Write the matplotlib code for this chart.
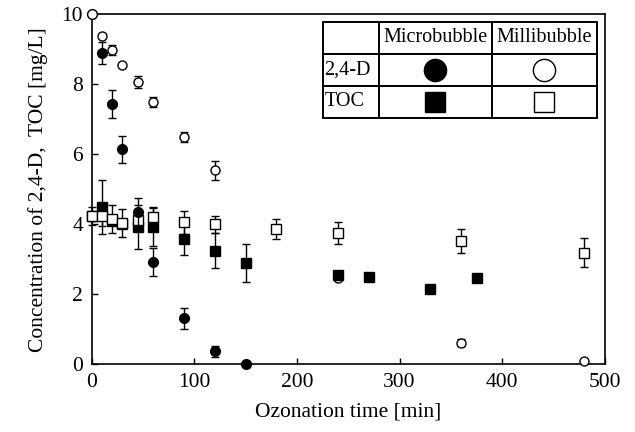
import matplotlib
matplotlib.use("Agg")
import matplotlib.pyplot as plt

plt.rcParams['font.family'] = ['Liberation Serif', 'DejaVu Serif']
plt.rcParams['mathtext.fontset'] = 'stix'

# ozonation time [min]
t_d_micro = [0, 10, 20, 30, 45, 60, 90, 120, 150]
d_micro = [10.0, 8.89, 7.43, 6.14, 4.35, 2.93, 1.31, 0.37, 0.0]
d_micro_err = [0, 0.31, 0.40, 0.38, 0.40, 0.40, 0.30, 0.15, 0]

t_d_milli = [0, 10, 20, 30, 45, 60, 90, 120, 240, 360, 480]
d_milli = [10.0, 9.39, 8.98, 8.55, 8.07, 7.50, 6.49, 5.55, 2.46, 0.62, 0.10]
d_milli_err = [0, 0, 0.15, 0, 0.17, 0.15, 0.15, 0.27, 0, 0.10, 0]

t_toc_micro = [0, 10, 20, 30, 45, 60, 90, 120, 150, 240, 270, 330, 375]
toc_micro = [4.25, 4.50, 4.10, 4.00, 3.93, 3.93, 3.57, 3.24, 2.89, 2.55, 2.50, 2.14, 2.46]
toc_micro_err = [0, 0.78, 0, 0, 0.63, 0.55, 0.45, 0.50, 0.55, 0, 0, 0, 0]

t_toc_milli = [0, 10, 20, 30, 45, 60, 90, 120, 180, 240, 360, 480]
toc_milli = [4.24, 4.24, 4.14, 4.05, 4.12, 4.20, 4.06, 4.00, 3.86, 3.76, 3.53, 3.19]
toc_milli_err = [0.25, 0.30, 0.40, 0.40, 0.30, 0.30, 0.33, 0.25, 0.28, 0.31, 0.35, 0.41]

col_labels = ['', 'Microbubble', 'Millibubble']
row_labels = ['2,4-D', 'TOC']

fig = plt.figure(figsize=(6.35, 4.32), dpi=100)
ax = fig.add_axes([0.1441, 0.1567, 0.8087, 0.8102])

eb = dict(ecolor='black', elinewidth=1.0, capsize=3, capthick=1.0,
          linestyle='none', clip_on=False)
ax.errorbar(t_d_milli, d_milli, yerr=d_milli_err, fmt='o', ms=6.5,
            mfc='white', mec='black', mew=1.0, zorder=3, **eb)
ax.errorbar(t_toc_micro, toc_micro, yerr=toc_micro_err, fmt='s', ms=6.5,
            mfc='black', mec='black', zorder=4, **eb)
ax.errorbar(t_toc_milli, toc_milli, yerr=toc_milli_err, fmt='s', ms=6.5,
            mfc='white', mec='black', mew=1.0, zorder=5, **eb)
ax.errorbar(t_d_micro[1:], d_micro[1:], yerr=d_micro_err[1:], fmt='o', ms=7,
            mfc='black', mec='black', zorder=6, **eb)
# t = 0 point sits under the open circle
ax.plot(t_d_milli[:1], d_milli[:1], 'o', ms=7, mfc='white', mec='black',
        clip_on=False, zorder=7)

ax.set_xlim(0, 500)
ax.set_ylim(0, 10)
ax.set_xticks([0, 100, 200, 300, 400, 500])
ax.set_yticks([0, 2, 4, 6, 8, 10])
ax.tick_params(direction='in', length=4, width=1, labelsize=15.5, pad=6)
for s in ax.spines.values():
    s.set_linewidth(1.2)

ax.set_xlabel('Ozonation time [min]', fontsize=15.5, labelpad=8)
ax.set_ylabel('Concentration of 2,4-D,  TOC [mg/L]', fontsize=15.5, labelpad=10)

# legend table
x0, x1 = 0.451, 0.984
y0, y1 = 0.704, 0.979
widths = [56, 113, 105]
tot = sum(widths)
cw = [w / tot * (x1 - x0) for w in widths]
cells = [col_labels] + [[r, '', ''] for r in row_labels]
tab = ax.table(cellText=cells, colWidths=cw, bbox=[x0, y0, x1 - x0, y1 - y0],
               cellLoc='center', zorder=10)
tab.auto_set_font_size(False)
tab.set_fontsize(14.5)
for (r, c), cell in tab.get_celld().items():
    cell.set_linewidth(1.4)
    cell.set_facecolor('white')
    cell.PAD = 0.02
    if c == 0:
        cell.set_text_props(ha='left')

rh = (y1 - y0) / 3
cx_micro = x0 + cw[0] + cw[1] / 2
cx_milli = x0 + cw[0] + cw[1] + cw[2] / 2
cy_d = y1 - 1.5 * rh
cy_toc = y1 - 2.5 * rh
ax.plot([cx_micro], [cy_d], 'o', ms=16, mfc='black', mec='black',
        transform=ax.transAxes, zorder=11)
ax.plot([cx_milli], [cy_d], 'o', ms=16, mfc='white', mec='black', mew=1.0,
        transform=ax.transAxes, zorder=11)
ax.plot([cx_micro], [cy_toc], 's', ms=14, mfc='black', mec='black',
        transform=ax.transAxes, zorder=11)
ax.plot([cx_milli], [cy_toc], 's', ms=14, mfc='white', mec='black', mew=1.0,
        transform=ax.transAxes, zorder=11)

fig.savefig('out.png', dpi=100)
